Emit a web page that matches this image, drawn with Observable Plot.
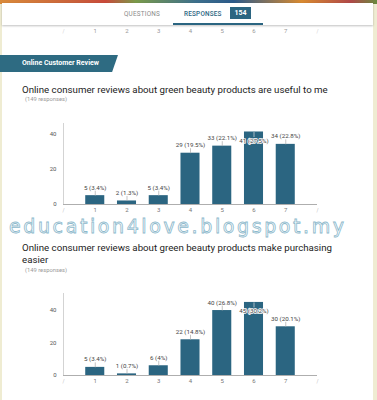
<!DOCTYPE html>
<html>
<head>
<meta charset="utf-8">
<script src="https://cdn.jsdelivr.net/npm/d3@7"></script>
<script src="https://cdn.jsdelivr.net/npm/@observablehq/plot@0.6"></script>
<style>
  html, body { margin: 0; padding: 0; }
  body { width: 377px; height: 400px; position: relative; overflow: hidden; background: #efecd2; font-family: Roboto, "Noto Sans", sans-serif; }
  .abs { position: absolute; }
  #page { left: 2px; top: 0; width: 371px; height: 400px; background: #fff; }
  #strip { left: 0; top: 0; width: 377px; height: 4px;
    background: linear-gradient(90deg, #d98a3a 0%, #c9603a 20%, #c94a3a 28%, #7a9a4a 36%, #3d6f8c 52%, #2c5a8a 62%, #d88a30 80%, #b04848 93%, #6a8a40 100%); }
  #header { left: 2px; top: 3px; width: 371px; height: 22px; background: #fff; box-shadow: 0 1px 2px rgba(0,0,0,0.25); }
  .tab { font-size: 6.4px; letter-spacing: 0.2px; top: 10px; }
  #badge { left: 230px; top: 7px; width: 21px; height: 12px; background: #2b6581; color: #fff; font-size: 7px; font-weight: bold; text-align: center; line-height: 12px; }
  #underline { left: 173px; top: 23px; width: 90px; height: 1.5px; background: #2b6581; }
  #banner { left: 0; top: 55px; width: 118px; height: 17px; background: #2e6b82; clip-path: polygon(0 0, 100% 0, 95% 100%, 0 100%); }
  #bannerText { left: 22px; top: 59px; color: #fff; font-size: 7px; font-weight: bold; }
  .title { left: 22px; font-size: 9.7px; color: #222; line-height: 12px; width: 330px; }
  .resp { left: 25px; font-size: 5.8px; color: #999; }
  #watermark { left: 9px; top: 217px; font-family: "DejaVu Sans", sans-serif; font-size: 19px; line-height: 19px; letter-spacing: 2.6px; color: #fff; -webkit-text-stroke: 0.8px #8db9cc; white-space: nowrap; }
  .chart { left: 0; }
</style>
</head>
<body>
<div id="page" class="abs"></div>
<div id="remnant" class="abs chart" style="top:25px"></div>
<div id="strip" class="abs"></div>
<div id="header" class="abs"></div>
<div class="abs tab" style="left:124px;color:#8a8a8a">QUESTIONS</div>
<div class="abs tab" style="left:184px;color:#2b6581;font-weight:500">RESPONSES</div>
<div id="badge" class="abs"></div>
<div id="underline" class="abs"></div>
<div id="banner" class="abs"></div>
<div id="bannerText" class="abs"></div>
<div id="title1" class="abs title" style="top:84px"></div>
<div id="resp1" class="abs resp" style="top:96px"></div>
<div id="chart1" class="abs chart" style="top:115px"></div>
<div id="title2" class="abs title" style="top:242px"></div>
<div id="resp2" class="abs resp" style="top:267px"></div>
<div id="chart2" class="abs chart" style="top:285px"></div>
<div id="watermark" class="abs"></div>
<script>
// ---- data ----
const scalePoints = [1, 2, 3, 4, 5, 6, 7];
const usefulCounts = [5, 2, 5, 29, 33, 41, 34];
const usefulPct = ["3.4", "1.3", "3.4", "19.5", "22.1", "27.5", "22.8"];
const easierCounts = [5, 1, 6, 22, 40, 45, 30];
const easierPct = ["3.4", "0.7", "4", "14.8", "26.8", "30.2", "20.1"];
const yTicks = [0, 20, 40];
const responseCount = 149;
const totalResponses = 154;
const sectionTitle = "Online Customer Review";
const question1 = "Online consumer reviews about green beauty products are useful to me";
const question2 = "Online consumer reviews about green beauty products make purchasing easier";
const watermarkText = "education4love.blogspot.my";

document.getElementById("badge").textContent = totalResponses;
document.getElementById("bannerText").textContent = sectionTitle;
document.getElementById("title1").textContent = question1;
document.getElementById("title2").textContent = question2;
document.getElementById("resp1").textContent = `(${responseCount} responses)`;
document.getElementById("resp2").textContent = `(${responseCount} responses)`;
document.getElementById("watermark").textContent = watermarkText;

const BAR = "#2b6581";
const W = 377, ML = 63, MR = 60;

function makeChart(counts, pcts, yMax, height, mt, mb) {
  const data = scalePoints.map((k, i) => ({k, v: counts[i], label: `${counts[i]} (${pcts[i]}%)`}));
  const maxV = d3.max(counts);
  const ppu = (height - mt - mb) / yMax;
  const lead = 5 / ppu;
  const normal = data.filter(d => d.v !== maxV);
  const top = data.filter(d => d.v === maxV);
  return Plot.plot({
    width: W, height, marginLeft: ML, marginRight: MR, marginTop: mt, marginBottom: mb,
    style: {fontFamily: "Roboto, sans-serif", fontSize: "6px", color: "#555", background: "transparent", overflow: "visible"},
    x: {domain: [0, 8]},
    y: {domain: [0, yMax]},
    marks: [
      Plot.ruleX([0], {stroke: "#c8c8c8", strokeWidth: 0.8}),
      Plot.rectY(data, {x1: d => d.k - 0.3, x2: d => d.k + 0.3, y: "v", fill: BAR}),
      Plot.ruleY([0], {stroke: "#999", strokeWidth: 0.8}),
      Plot.link(normal, {x1: "k", x2: "k", y1: "v", y2: d => d.v + lead, stroke: "#aaa", strokeWidth: 0.7}),
      Plot.link(top, {x1: "k", x2: "k", y1: "v", y2: d => d.v - lead, stroke: "#ddd", strokeWidth: 0.7}),
      Plot.text(normal, {x: "k", y: "v", text: "label", dy: -8, fill: "#444", fontSize: 6.2}),
      Plot.text(top, {x: "k", y: "v", text: "label", dy: 9, fill: "#444", stroke: "#fff", strokeWidth: 1.6, fontSize: 6.2}),
      Plot.axisY({ticks: yTicks, tickSize: 0, tickPadding: 7, label: null, fill: "#555"}),
      Plot.axisX({ticks: scalePoints, tickSize: 0, tickPadding: 3, label: null, fill: "#777"}),
      Plot.text([0, 8], {x: d => d, y: 0, text: () => "/", dy: 6, fill: "#bbb", fontSize: 5})
    ]
  });
}

document.getElementById("chart1").appendChild(makeChart(usefulCounts, usefulPct, 45.8, 105, 8, 16));
document.getElementById("chart2").appendChild(makeChart(easierCounts, easierPct, 50.5, 105, 8, 15));

// remnant x-axis of the chart above (scrolled under the header)
document.getElementById("remnant").appendChild(Plot.plot({
  width: W, height: 12, marginLeft: ML, marginRight: MR, marginTop: 0, marginBottom: 12,
  style: {fontFamily: "Roboto, sans-serif", fontSize: "6px", background: "transparent", overflow: "visible"},
  x: {domain: [0, 8]},
  y: {domain: [0, 1]},
  marks: [
    Plot.axisX({ticks: scalePoints, tickSize: 0, tickPadding: 3, label: null, fill: "#999"}),
    Plot.text([0, 8], {x: d => d, y: 0, text: () => "/", dy: 6, fill: "#ccc", fontSize: 5})
  ]
}));
</script>
</body>
</html>
